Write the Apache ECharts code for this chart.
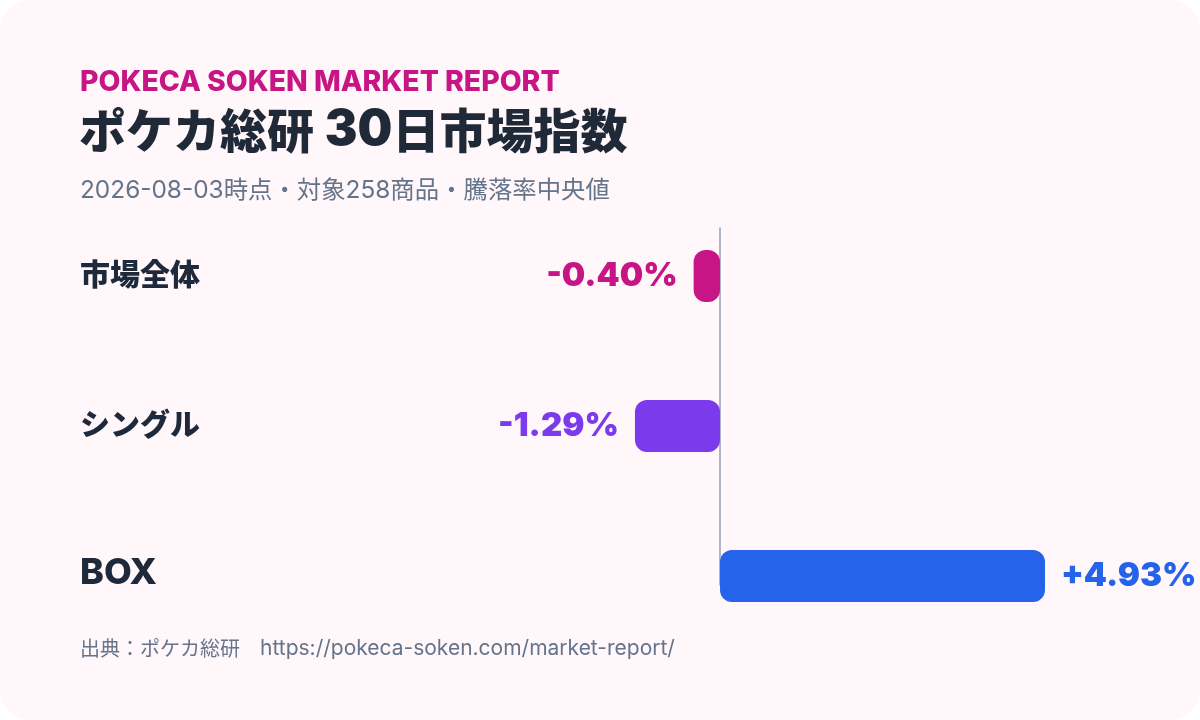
<!DOCTYPE html>
<html>
<head>
<meta charset="utf-8">
<script src="https://cdn.jsdelivr.net/npm/echarts@6/dist/echarts.min.js"></script>
<style>
html,body{margin:0;padding:0;background:#ffffff;}
#c{width:1200px;height:720px;}
</style>
</head>
<body>
<div id="c"></div>
<script>
const categories = ['市場全体', 'シングル', 'BOX'];
const values = [-0.40, -1.29, 4.93];
const barColors = ['#c71585', '#7c3aed', '#2563eb'];

const kicker = 'POKECA SOKEN MARKET REPORT';
const titleJa1 = 'ポケカ総研 ';
const titleNum = '30';
const titleJa2 = '日市場指数';
const subTitle = '2026-08-03時点・対象258商品・騰落率中央値';
const footerJa = '出典：ポケカ総研　';
const footerUrl = 'https://pokeca-soken.com/market-report/';

const LATIN = "Inter, 'Noto Sans CJK JP', sans-serif";
const CJK = "'Noto Sans CJK JP', Inter, sans-serif";

const chart = echarts.init(document.getElementById('c'), null, {renderer: 'canvas'});

const xMin = -2, xMax = 6;
const pxPerUnit = 65.92;
const zeroX = 720;
const gridLeft = zeroX - (0 - xMin) * pxPerUnit;
const gridWidth = (xMax - xMin) * pxPerUnit;

function fmt(v) {
  return (v > 0 ? '+' : '') + v.toFixed(2) + '%';
}

const option = {
  backgroundColor: 'transparent',
  animation: false,
  graphic: [
    {type: 'rect', z: -10, shape: {x: 0, y: 0, width: 1200, height: 720, r: 30}, style: {fill: '#fff7f9'}},
    {type: 'text', left: 80, top: 68, style: {text: kicker, fill: '#c71585', font: "800 28.4px " + LATIN}},
    {type: 'text', left: 79, top: 106, style: {
      text: '{a|' + titleJa1 + '}{b|' + titleNum + '}{a|' + titleJa2 + '}',
      rich: {
        a: {fill: '#1f2937', fontSize: 47, fontWeight: 900, fontFamily: CJK},
        b: {fill: '#1f2937', fontSize: 49, fontWeight: 900, fontFamily: LATIN}
      }
    }},
    {type: 'text', left: 80, top: 178, style: {text: subTitle, fill: '#64748b', font: "400 24.4px " + LATIN}},
    {type: 'text', left: 80, top: 638, style: {
      text: '{a|' + footerJa + '}{b|' + footerUrl + '}',
      rich: {
        a: {fill: '#64748b', fontSize: 20, fontFamily: CJK},
        b: {fill: '#64748b', fontSize: 21, fontFamily: LATIN}
      }
    }}
  ],
  grid: [
    {left: gridLeft, width: gridWidth, top: 201, height: 450, containLabel: false},
    {left: gridLeft, width: gridWidth, top: 228, height: 357, containLabel: false}
  ],
  xAxis: [
    {type: 'value', gridIndex: 0, min: xMin, max: xMax, show: false, splitLine: {show: false}},
    {type: 'value', gridIndex: 1, min: xMin, max: xMax, show: false, splitLine: {show: false}}
  ],
  yAxis: [
    {
      type: 'category', gridIndex: 0, data: categories, inverse: true,
      axisLine: {show: false}, axisTick: {show: false},
      axisLabel: {
        align: 'left', margin: gridLeft - 80,
        formatter: function (v) { return /^[A-Za-z]+$/.test(v) ? '{l|' + v + '}' : '{j|' + v + '}'; },
        rich: {
          j: {color: '#1e293b', fontSize: 30, fontWeight: 900, fontFamily: CJK, padding: [0, 0, 4, 0]},
          l: {color: '#1e293b', fontSize: 36, fontWeight: 800, fontFamily: LATIN, padding: [0, 0, 6, 0]}
        }
      }
    },
    {
      type: 'category', gridIndex: 1, data: categories, inverse: true,
      axisLine: {show: true, onZero: true, lineStyle: {color: '#94a3b8', width: 1.5}},
      axisTick: {show: false}, axisLabel: {show: false}
    }
  ],
  series: [
    {
      type: 'bar', xAxisIndex: 0, yAxisIndex: 0, barWidth: 52,
      data: values.map((v, i) => ({
        value: v,
        itemStyle: {color: barColors[i], borderRadius: 12},
        label: {
          show: true,
          position: v < 0 ? 'left' : 'right',
          distance: 16,
          formatter: fmt(v),
          color: barColors[i],
          fontSize: 33, fontWeight: 900, fontFamily: LATIN
        }
      }))
    }
  ]
};
chart.setOption(option);
</script>
</body>
</html>
